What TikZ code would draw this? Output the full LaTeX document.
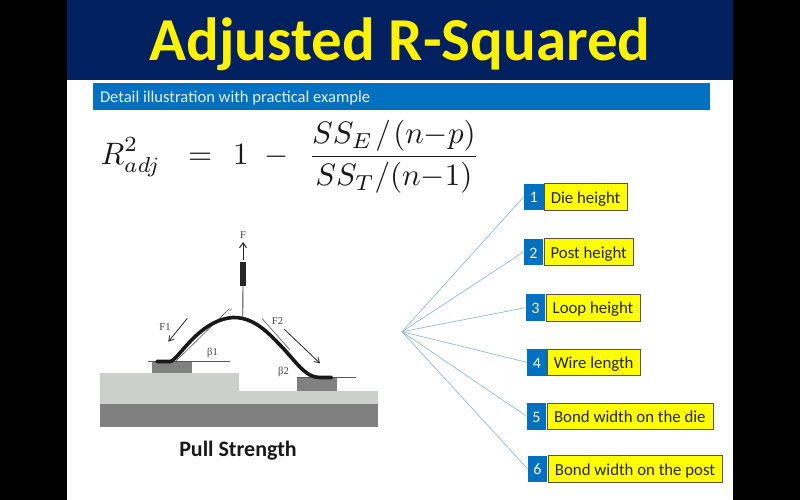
\documentclass[tikz,border=0pt]{standalone}
\usepackage{amsmath}
\usepackage{fontspec}
\setmainfont{Carlito}
\newfontfamily\figfont{Liberation Serif}
\usetikzlibrary{arrows.meta, positioning}
\definecolor{navyband}{RGB}{0,32,96}
\definecolor{bluebar}{RGB}{0,112,192}
\definecolor{yellowbox}{RGB}{255,255,0}
\definecolor{spoke}{RGB}{150,185,210}
\definecolor{lightsub}{RGB}{205,207,205}
\definecolor{darksub}{RGB}{128,128,128}

\begin{document}
\begin{tikzpicture}[
        x=1pt, y=-1pt,
        numbox/.style={fill=bluebar, text=white, inner sep=0pt, text height=12pt, text depth=0pt, minimum width=19.6pt, minimum height=26.6pt, font=\fontsize{16}{18}\selectfont},
        labelbox/.style={draw=black!75!yellow, fill=yellowbox, line width=0.7pt, inner sep=0pt, text height=12.5pt, text depth=0pt, minimum height=26.6pt, font=\fontsize{16.8}{18}\selectfont, text=black!85},
        spokeline/.style={draw=spoke, line width=0.7pt},
        figlabel/.style={font=\figfont\fontsize{10.5}{12}\selectfont, text=black!75, inner sep=0pt},
        thinline/.style={draw=black!65, line width=0.6pt},
        forcearrow/.style={-{Straight Barb[length=5pt,width=6pt]}, draw=black!85, line width=0.8pt}
    ]
    \useasboundingbox (0,0) rectangle (800,500);

    % Page
    \fill[black] (0,0) rectangle (800,500);
    \fill[white] (67,0) rectangle (733,500);
    \node (band) [fill=navyband, minimum width=666pt, minimum height=80pt, inner sep=0pt] at (400,40) {};
    \node (title) [text=yellow, font=\bfseries\fontsize{61}{64}\selectfont, inner sep=0pt] at (400,44) {Adjusted R-Squared};
    \node (bar) [fill=bluebar, minimum width=617pt, minimum height=27pt, inner sep=0pt] at (401.5,96.5) {};
    \node (subtitle) [right=7pt of bar.west, anchor=west, yshift=-1.5pt, text=white!90!bluebar, font=\fontsize{16.6}{18}\selectfont, inner sep=0pt] {Detail illustration with practical example};

    % Formula
    \node (formula) [scale=3.1, inner sep=0pt, text=black!90, anchor=west] at (100,157) {$\displaystyle R^{2}_{adj}\hspace{6pt}=\hspace{4pt}1\hspace{3pt}-\hspace{4pt}\frac{SS_{E}\hspace{0.8pt}/\hspace{0.8pt}(n{-}p)}{SS_{T}/(n{-}1)}$};

    % Substrate
    \fill[lightsub] (100,372.7) rectangle (239,404);
    \fill[lightsub] (239,391.3) rectangle (377.7,404);
    \fill[darksub] (100,404) rectangle (377.7,427);
    \fill[darksub] (151.7,362.3) rectangle (192,373);
    \fill[darksub] (296.7,377.7) rectangle (337.3,391.3);

    % Wire
    \draw[thinline] (147.5,361.7) -- (229.5,361.7);
    \draw[thinline] (296.7,377.7) -- (356,377.7);
    \draw[thinline] (175,362) -- (229.5,308.5);
    \draw[thinline] (262,318.5) -- (290,350);
    \draw[thinline] (229.5,311) arc (60:30:6);
    \draw[line width=3.6pt, line cap=round, black!90] (157,361.5) -- (170,361.5)
        .. controls (178,361) and (198,320) .. (233,317.5)
        .. controls (255,317) and (270,335) .. (280,345)
        .. controls (295,360) and (305,378) .. (320,377.5) -- (331.5,377.5);

    % Pull hook
    \coordinate (hook) at (242.7,318.3);
    \node (grip) [fill=black!85, minimum width=6.5pt, minimum height=24pt, inner sep=0pt] at (243,273.5) {};
    \coordinate (gripTop) at (243,260);
    \coordinate (pullEnd) at (243,242);
    \draw[line width=0.9pt, black!75] (hook) -- (grip.south);
    \draw[-{Straight Barb[length=5pt,width=7pt]}, line width=1pt, black!85] (gripTop) -- (pullEnd);

    % Force arrows
    \draw[forcearrow] (187.3,318.3) -- (168.3,341.7);
    \draw[forcearrow] (284.3,329.3) -- (320,363.3);
    \node (forceF) [figlabel] at (243,235) {F};
    \node (forceA) [figlabel] at (165,327) {F1};
    \node (forceB) [figlabel] at (277.5,321) {F2};
    \node (betaA) [figlabel] at (212.5,352.5) {β1};
    \node (betaB) [figlabel] at (283.5,372) {β2};
    \node (caption) [font=\bfseries\fontsize{22}{24}\selectfont, text=black!90, inner sep=0pt] at (238,450.5) {Pull Strength};

    % Nodes
    \coordinate (hub) at (402,331.7);
    \node (num1) [numbox] at (533.7,196.8) {1};
    \node (box1) [labelbox, right=0pt of num1, minimum width=83pt] {Die height};
    \node (num2) [numbox] at (533.5,252) {2};
    \node (box2) [labelbox, right=0pt of num2, minimum width=89.7pt] {Post height};
    \node (num3) [numbox] at (535.5,307.7) {3};
    \node (box3) [labelbox, right=0pt of num3, minimum width=94.4pt] {Loop height};
    \node (num4) [numbox] at (536.8,362.3) {4};
    \node (box4) [labelbox, right=0pt of num4, minimum width=93pt] {Wire length};
    \node (num5) [numbox] at (536.5,416.2) {5};
    \node (box5) [labelbox, right=0pt of num5, minimum width=166pt] {Bond width on the die};
    \node (num6) [numbox] at (537.5,468.8) {6};
    \node (box6) [labelbox, right=0pt of num6, minimum width=174.4pt] {Bond width on the post};

    % Connections
    \draw[spokeline] (hub) -- (num1.west);
    \draw[spokeline] (hub) -- (num2.west);
    \draw[spokeline] (hub) -- (num3.west);
    \draw[spokeline] (hub) -- (num4.west);
    \draw[spokeline] (hub) -- (num5.west);
    \draw[spokeline] (hub) -- (num6.west);
\end{tikzpicture}
\end{document}
